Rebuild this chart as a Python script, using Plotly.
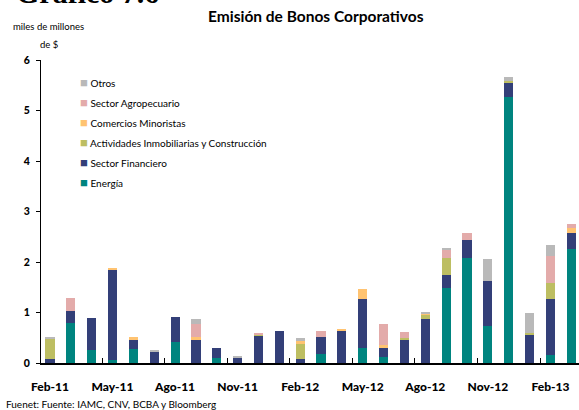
import plotly.graph_objects as go

months = ["Feb-11", "Mar-11", "Abr-11", "May-11", "Jun-11", "Jul-11", "Ago-11", "Sep-11",
          "Oct-11", "Nov-11", "Dic-11", "Ene-12", "Feb-12", "Mar-12", "Abr-12", "May-12",
          "Jun-12", "Jul-12", "Ago-12", "Sep-12", "Oct-12", "Nov-12", "Dic-12", "Ene-13",
          "Feb-13", "Mar-13"]

energia = [0, 0.79, 0.26, 0.06, 0.28, 0, 0.42, 0, 0.09, 0, 0, 0, 0, 0.18, 0, 0.30,
           0.12, 0, 0, 1.48, 2.08, 0.73, 5.27, 0, 0.16, 2.26]
financiero = [0.08, 0.24, 0.63, 1.78, 0.18, 0.22, 0.49, 0.46, 0.21, 0.10, 0.55, 0.64, 0.08, 0.33, 0.63, 0.97,
              0.18, 0.47, 0.87, 0.26, 0.36, 0.89, 0.29, 0.57, 1.11, 0.31]
inmobiliarias = [0.40, 0, 0, 0, 0, 0, 0, 0, 0, 0, 0.02, 0, 0.30, 0, 0, 0,
                 0, 0.03, 0.08, 0.34, 0, 0, 0.02, 0.02, 0.31, 0]
comercios = [0, 0, 0, 0.04, 0.06, 0, 0, 0.06, 0, 0, 0, 0, 0.06, 0, 0.04, 0.20,
             0.06, 0, 0.04, 0, 0, 0, 0, 0, 0, 0.10]
agro = [0, 0.26, 0, 0, 0, 0, 0, 0.26, 0, 0, 0.03, 0, 0, 0.13, 0, 0,
        0.41, 0.11, 0, 0.16, 0.14, 0, 0, 0, 0.54, 0.08]
otros = [0.02, 0, 0, 0, 0, 0.02, 0, 0.09, 0, 0.04, 0, 0, 0.06, 0, 0, 0,
         0, 0, 0.02, 0.02, 0, 0.44, 0.08, 0.40, 0.22, 0]

tick_labels = ["Feb-11", "May-11", "Ago-11", "Nov-11", "Feb-12", "May-12", "Ago-12", "Nov-12", "Feb-13"]
y_ticks = [0, 1, 2, 3, 4, 5, 6]

series = [
    ("Energía", energia, "#00847F"),
    ("Sector Financiero", financiero, "#333F78"),
    ("Actividades Inmobiliarias y Construcción", inmobiliarias, "#BDBE62"),
    ("Comercios Minoristas", comercios, "#FFC371"),
    ("Sector Agropecuario", agro, "#E3ABAA"),
    ("Otros", otros, "#B9B9B9"),
]

W, H = 579, 410
L, R, T, B = 41, 0, 60, 47
PW, PH = W - L - R, H - T - B

def px(x):
    return (x - L) / PW

def py(y):
    return (H - B - y) / PH

fig = go.Figure()
for name, vals, col in series:
    fig.add_trace(go.Bar(x=months, y=vals, name=name, marker=dict(color=col, line=dict(width=0)),
                         width=0.44, showlegend=False))
# legend entries (top of stack first): coloured square glyph + label
for i, (name, vals, col) in enumerate(reversed(series)):
    label = f"<span style='color:{col};font-size:13px'>■</span> {name}"
    fig.add_trace(go.Scatter(x=[None], y=[None], mode="markers", name=label,
                             legendgroup=f"g{i}",
                             marker=dict(symbol="square", size=1, color="rgba(0,0,0,0)")))

# boundary tick marks via an overlaid linear axis
n = len(months)
bounds = [i + 2.5 for i in range(0, n - 3, 3)]
fig.add_trace(go.Scatter(x=[bounds[0]], y=[0], xaxis="x2", mode="markers",
                         marker=dict(opacity=0), showlegend=False, hoverinfo="skip"))

xr = [-0.43, 25.37]
fig.update_layout(
    width=W, height=H,
    margin=dict(l=L, r=R, t=T, b=B),
    paper_bgcolor="white", plot_bgcolor="white",
    barmode="stack", bargap=0.5,
    font=dict(family="Lato, DejaVu Sans, sans-serif", color="#000000"),
    xaxis=dict(type="category", range=xr, tickvals=tick_labels, ticktext=tick_labels,
               ticks="", showline=True, linecolor="#000000", linewidth=1.5,
               ticklabelstandoff=12,
               tickfont=dict(size=12, family="Lato Black, Lato, sans-serif"), showgrid=False,
               zeroline=False),
    xaxis2=dict(overlaying="x", range=xr, tickvals=bounds, ticks="inside", ticklen=5,
                tickcolor="#000000", tickwidth=1.2, showticklabels=False, showline=False,
                showgrid=False, zeroline=False, side="bottom", anchor="y"),
    yaxis=dict(range=[0, 6], tickvals=y_ticks, ticks="outside", ticklen=4,
               tickcolor="#000000", showline=True, linecolor="#000000", linewidth=1.2,
               ticklabelstandoff=4,
               tickfont=dict(size=10.5, family="Lato Black, Lato, sans-serif"), showgrid=False,
               zeroline=False),
    legend=dict(x=px(40), y=py(69), xanchor="left", yanchor="top", traceorder="grouped",
                bgcolor="rgba(0,0,0,0)", font=dict(size=10, family="Lato, sans-serif"),
                itemwidth=30, tracegroupgap=1),
    showlegend=True,
)

fig.add_annotation(text="<b>Emisión de Bonos Corporativos</b>", xref="paper", yref="paper",
                   x=px(316), y=py(16), xanchor="center", yanchor="middle", showarrow=False,
                   font=dict(size=15.5, family="Lato, sans-serif"))
fig.add_annotation(text="<b>Gráfico 7.6</b>", xref="paper", yref="paper",
                   x=px(14), y=py(11), xanchor="left", yanchor="bottom", showarrow=False,
                   font=dict(size=30, family="Liberation Serif, serif"))
fig.add_annotation(text="miles de millones", xref="paper", yref="paper",
                   x=px(11), y=py(27), xanchor="left", yanchor="middle", showarrow=False,
                   font=dict(size=9.5, family="Lato, sans-serif"))
fig.add_annotation(text="de $", xref="paper", yref="paper",
                   x=px(38), y=py(44), xanchor="left", yanchor="middle", showarrow=False,
                   font=dict(size=9.5, family="Lato, sans-serif"))
fig.add_annotation(text="Fuenet: Fuente: IAMC, CNV, BCBA y Bloomberg", xref="paper", yref="paper",
                   x=px(4), y=py(404), xanchor="left", yanchor="middle", showarrow=False,
                   font=dict(size=10, family="Lato, sans-serif"))

fig.write_html("out.html", config={"displayModeBar": False},
               post_script="document.body.style.margin='0px';")
